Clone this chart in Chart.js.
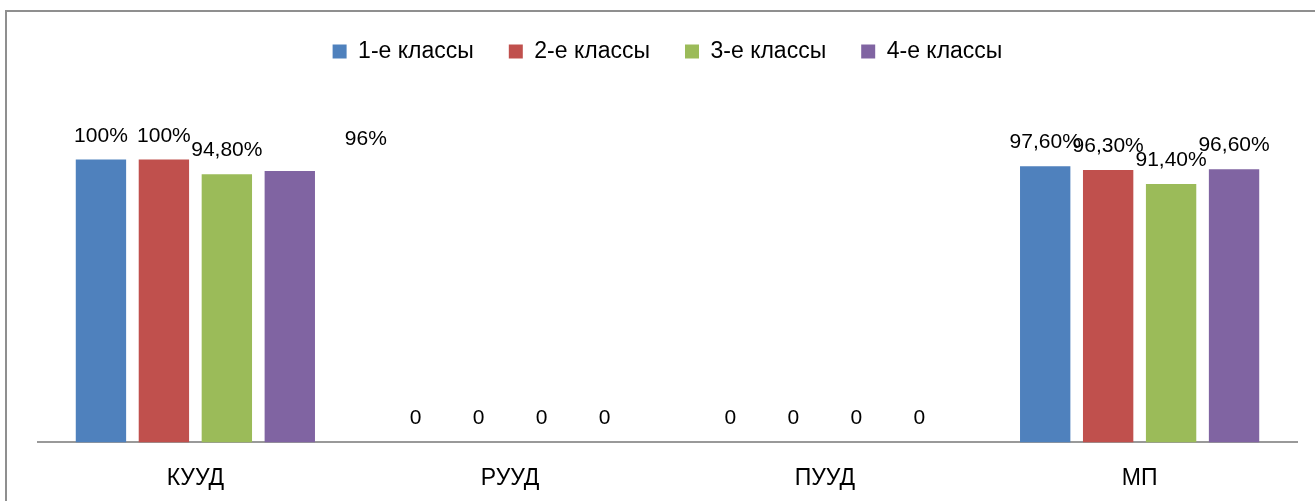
<!DOCTYPE html>
<html>
<head>
<meta charset="utf-8">
<script src="https://cdn.jsdelivr.net/npm/chart.js@4.4.0/dist/chart.umd.min.js"></script>
<style>
    html, body { margin: 0; padding: 0; background: #fff; }
    canvas { display: block; }
</style>
</head>
<body>
<canvas id="chart" width="1315" height="501"></canvas>
<script>
const categories = ['КУУД', 'РУУД', 'ПУУД', 'МП'];
const seriesNames = ['1-е классы', '2-е классы', '3-е классы', '4-е классы'];
const grade1 = [100, 0, 0, 97.6];
const grade2 = [100, 0, 0, 96.3];
const grade3 = [94.8, 0, 0, 91.4];
const grade4 = [96, 0, 0, 96.6];
const colors = ['#4F81BD', '#C0504D', '#9BBB59', '#8064A2'];

const FONT = "'Liberation Sans', Arial, sans-serif";

function fmt(v) {
    if (v === 0) return '0';
    if (Number.isInteger(v)) return v + '%';
    return v.toFixed(2).replace('.', ',') + '%';
}

// frame around the chart (only top and left edges are in view)
const framePlugin = {
    id: 'frame',
    beforeDraw(chart) {
        const c = chart.ctx;
        c.save();
        c.strokeStyle = '#8f8f8f';
        c.lineWidth = 2;
        c.beginPath();
        c.moveTo(chart.width, 11);
        c.lineTo(6, 11);
        c.lineTo(6, chart.height);
        c.stroke();
        c.restore();
    }
};

// extra room under the legend
const legendGap = {
    id: 'legendGap',
    beforeInit(chart) {
        const fit = chart.legend.fit;
        chart.legend.fit = function () {
            fit.call(this);
            this.height += 30;
        };
    }
};

// value labels above each bar
const valueLabels = {
    id: 'valueLabels',
    afterDatasetsDraw(chart, args, opts) {
        const c = chart.ctx;
        c.save();
        c.font = opts.size + 'px ' + FONT;
        c.fillStyle = '#000';
        c.textAlign = 'center';
        c.textBaseline = 'alphabetic';
        chart.data.datasets.forEach((ds, di) => {
            chart.getDatasetMeta(di).data.forEach((bar, i) => {
                let x = bar.x, y = bar.y - opts.gap;
                const m = opts.moved.find(o => o.dataset === di && o.index === i);
                if (m) { x += m.dx; y += m.dy; }
                c.fillText(fmt(ds.data[i]), x, y);
            });
        });
        c.restore();
    }
};

new Chart(document.getElementById('chart'), {
    type: 'bar',
    data: {
        labels: categories,
        datasets: [grade1, grade2, grade3, grade4].map((d, i) => ({
            label: seriesNames[i],
            data: d,
            backgroundColor: colors[i],
            borderWidth: 0,
            barPercentage: 0.8,
            categoryPercentage: 0.8
        }))
    },
    options: {
        responsive: false,
        animation: false,
        layout: { padding: { left: 38, right: 18, top: 5, bottom: -13 } },
        plugins: {
            tooltip: { enabled: false },
            legend: {
                position: 'top',
                labels: {
                    boxWidth: 14, boxHeight: 14, padding: 35,
                    color: '#000',
                    font: { family: FONT, size: 23 }
                }
            },
            valueLabels: {
                size: 21, gap: 18,
                moved: [{ dataset: 3, index: 0, dx: 76, dy: -8 }]
            }
        },
        scales: {
            x: {
                grid: { display: false, drawTicks: false },
                border: { display: true, color: '#999', width: 2 },
                ticks: { color: '#000', padding: 22, font: { family: FONT, size: 23 } }
            },
            y: {
                display: false,
                min: 0, max: 120
            }
        }
    },
    plugins: [framePlugin, legendGap, valueLabels]
});
</script>
</body>
</html>
